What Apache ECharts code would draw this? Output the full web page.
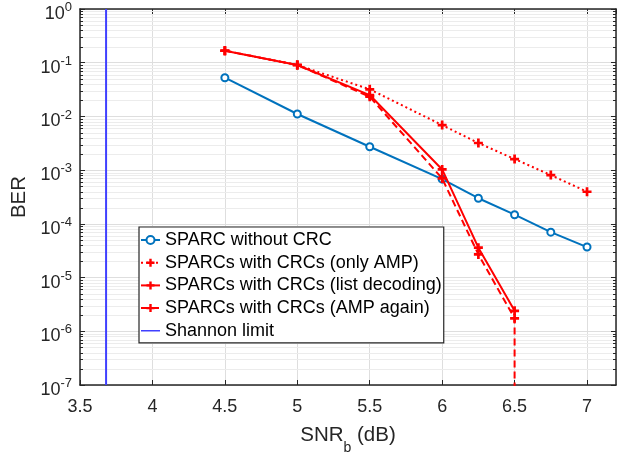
<!DOCTYPE html>
<html><head><meta charset="utf-8">
<script src="https://cdn.jsdelivr.net/npm/echarts@6/dist/echarts.min.js"></script>
<style>html,body{margin:0;padding:0;background:#fff}#c{width:634px;height:453px}</style>
</head><body><div id="c"></div>
<script>
// ---- data ----
const snrNoCRC = [4.5, 5, 5.5, 6, 6.25, 6.5, 6.75, 7];
const berNoCRC = [0.0526, 0.0111, 0.00273, 6.8e-4, 3.0e-4, 1.48e-4, 7.0e-5, 3.7e-5];
const snrOnlyAMP = [4.5, 5, 5.5, 6, 6.25, 6.5, 6.75, 7];
const berOnlyAMP = [0.167, 0.0906, 0.032, 0.0069, 0.0032, 0.00161, 8.1e-4, 3.96e-4];
const snrList = [4.5, 5, 5.5, 6, 6.25, 6.5];
const berList = [0.167, 0.0906, 0.025, 1.03e-3, 3.6e-5, 2.4e-6];
const snrAgain = [4.5, 5, 5.5, 6, 6.25, 6.5, 6.5];
const berAgain = [0.167, 0.0906, 0.0233, 7.0e-4, 2.7e-5, 1.74e-6, 1e-12]; // last point: zero BER
const snrShannon = [3.68, 3.68];
const berShannon = [1, 1e-7];
const seriesNames = ['SPARC without CRC', 'SPARCs with CRCs (only AMP)', 'SPARCs with CRCs (list decoding)', 'SPARCs with CRCs (AMP again)', 'Shannon limit'];
const xMin = 3.5, xMax = 7.2, xStep = 0.5;
const yMin = 1e-7, yMax = 1;

const zip = (xs, ys) => xs.map((x, i) => [x, ys[i]]);
const minorVals = [];
for (let e = -7; e < 0; e++) for (let k = 2; k <= 9; k++) minorVals.push([xMin, k * Math.pow(10, e)]);

const axisColor = '#262626';
const plus = 'path://M3.5,0H6.5V3.5H10V6.5H6.5V10H3.5V6.5H0V3.5H3.5Z';
const lineIcon = 'path://M0,0L0.01,0L0,0ZM0,10L0.01,10L0,10ZM0,4.2H19V5.8H0Z';
const font = 'Liberation Sans, Arial, sans-serif';

const chart = echarts.init(document.getElementById('c'), null, {renderer: 'canvas'});
const baseX = {
  type: 'value', min: xMin, max: xMax, interval: xStep,
  axisLine: {show: true, onZero: false, lineStyle: {color: axisColor, width: 1.5}},
  axisTick: {show: true, inside: true, length: 5, lineStyle: {color: axisColor, width: 1}},
  splitLine: {show: false}
};
const baseY = {
  type: 'log', logBase: 10, min: yMin, max: yMax, interval: 1,
  axisLine: {show: true, lineStyle: {color: axisColor, width: 1.5}},
  axisTick: {show: true, inside: true, length: 5, lineStyle: {color: axisColor, width: 1}},
  splitLine: {show: false}
};
chart.setOption({
  animation: false,
  textStyle: {fontFamily: font},
  grid: {left: 80, right: 18, top: 9, bottom: 68, containLabel: false, outerBoundsMode: 'none'},
  legend: {
    data: seriesNames.map(n => n === 'Shannon limit' ? {name: n, icon: lineIcon} : n),
    orient: 'vertical', left: 139, top: 227,
    padding: [3, 2, 2, 1], itemGap: 2.7, itemWidth: 19, itemHeight: 10,
    backgroundColor: '#fff', borderColor: axisColor, borderWidth: 1.2,
    textStyle: {fontSize: 18, color: '#000', lineHeight: 20, fontFamily: font}
  },
  xAxis: [
    Object.assign({}, baseX, {
      position: 'bottom',
      splitLine: {show: true, lineStyle: {color: '#dedede', width: 1}},
      axisLabel: {show: true, margin: 13, fontSize: 18, color: axisColor, fontFamily: font,
        showMaxLabel: false,
        formatter: v => (v > 7.05 ? '' : String(v))},
      name: 'SNR{s|b} (dB)', nameLocation: 'middle', nameGap: 38,
      nameTextStyle: {fontSize: 20.5, color: axisColor, fontFamily: font, lineHeight: 24,
        rich: {s: {fontSize: 14, fontFamily: font, color: axisColor, verticalAlign: 'bottom', lineHeight: 14, padding: [0, 0, -8, 0]}}}
    }),
    Object.assign({}, baseX, {position: 'top', axisLabel: {show: false}})
  ],
  yAxis: [
    Object.assign({}, baseY, {
      position: 'left',
      splitLine: {show: true, lineStyle: {color: '#dedede', width: 1}},
      axisLabel: {show: true, margin: 8, padding: [10, 0, 0, 0], color: axisColor,
        formatter: v => '{b|10}{s|' + Math.round(Math.log10(v)) + '}',
        rich: {
          b: {fontSize: 18, fontFamily: font, color: axisColor, lineHeight: 26},
          s: {fontSize: 13, fontFamily: font, color: axisColor, lineHeight: 13, verticalAlign: 'top'}
        }},
      name: 'BER', nameLocation: 'middle', nameGap: 41, nameRotate: 90,
      nameTextStyle: {fontSize: 20.5, color: axisColor, fontFamily: font}
    }),
    Object.assign({}, baseY, {position: 'right', axisLabel: {show: false}})
  ],
  series: [
    {
      type: 'custom', name: 'minorgrid', z: 1, silent: true, clip: true,
      data: minorVals, encode: {x: 0, y: 1},
      renderItem: function (params, api) {
        const v = api.value(1);
        const a = api.coord([xMin, v]);
        const b = api.coord([xMax, v]);
        const y = Math.round(a[1]) + 0.5;
        return {type: 'group', children: [
          {type: 'line', shape: {x1: a[0], y1: y, x2: b[0], y2: y}, style: {stroke: '#ececec', lineWidth: 1}},
          {type: 'line', shape: {x1: a[0], y1: y, x2: a[0] + 3, y2: y}, style: {stroke: axisColor, lineWidth: 1}},
          {type: 'line', shape: {x1: b[0] - 3, y1: y, x2: b[0], y2: y}, style: {stroke: axisColor, lineWidth: 1}}
        ]};
      }
    },
    {
      name: seriesNames[0], type: 'line', z: 3, clip: true,
      data: zip(snrNoCRC, berNoCRC),
      symbol: 'emptyCircle', symbolSize: 7,
      lineStyle: {color: '#0072BD', width: 2},
      itemStyle: {color: '#0072BD', borderWidth: 1.5}
    },
    {
      name: seriesNames[1], type: 'line', z: 3, clip: true,
      data: zip(snrOnlyAMP, berOnlyAMP),
      symbol: plus, symbolSize: 9,
      lineStyle: {color: '#FF0000', width: 2, type: [2, 3]},
      itemStyle: {color: '#FF0000'}
    },
    {
      name: seriesNames[2], type: 'line', z: 4, clip: true,
      data: zip(snrList, berList),
      symbol: plus, symbolSize: 9,
      lineStyle: {color: '#FF0000', width: 2},
      itemStyle: {color: '#FF0000'}
    },
    {
      name: seriesNames[3], type: 'line', z: 4, clip: true,
      data: zip(snrAgain, berAgain).map((d, i, arr) => i === arr.length - 1 ? {value: d, symbol: 'none'} : d),
      symbol: plus, symbolSize: 9,
      lineStyle: {color: '#FF0000', width: 2, type: [7, 4]},
      itemStyle: {color: '#FF0000'}
    },
    {
      name: seriesNames[4], type: 'line', z: 3, clip: true,
      data: zip(snrShannon, berShannon),
      symbol: 'none',
      lineStyle: {color: '#4040FF', width: 2},
      itemStyle: {color: '#4040FF'}
    }
  ]
});
</script></body></html>
